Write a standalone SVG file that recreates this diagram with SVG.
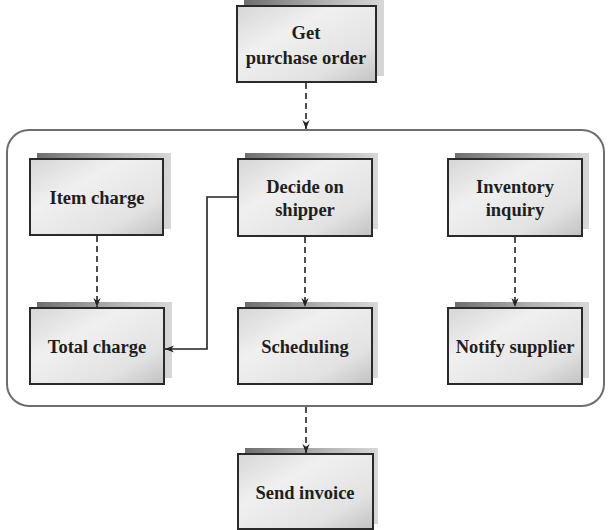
<svg xmlns="http://www.w3.org/2000/svg" width="609" height="530" viewBox="0 0 609 530">
<defs>
<linearGradient id="shade" x1="0" y1="0" x2="1" y2="0">
<stop offset="0" stop-color="#6e6e6e"/>
<stop offset="0.6" stop-color="#b4b4b4"/>
<stop offset="1" stop-color="#d8d8d8"/>
</linearGradient>
<linearGradient id="face" x1="0" y1="0" x2="1" y2="1">
<stop offset="0" stop-color="#d6d6d6"/>
<stop offset="0.35" stop-color="#f0f0f0"/>
<stop offset="0.75" stop-color="#e2e2e2"/>
<stop offset="1" stop-color="#c2c2c2"/>
</linearGradient>
<marker id="ah" viewBox="0 0 10 10" refX="10" refY="5" markerWidth="9" markerHeight="9" markerUnits="userSpaceOnUse" orient="auto">
<path d="M0,1 L10,5 L0,9 L3,5 Z" fill="#222"/>
</marker>
</defs>
<style>
.sh{fill:url(#shade);}
.bx{fill:url(#face);stroke:#2a2a2a;stroke-width:2;}
.t{font-family:"Liberation Serif","Times New Roman",serif;font-weight:bold;font-size:18.5px;fill:#1e1e1e;text-anchor:middle;}
.d{stroke:#222;stroke-width:1.6;fill:none;stroke-dasharray:6,4;}
.s{stroke:#222;stroke-width:1.6;fill:none;}
</style>
<rect width="609" height="530" fill="#fff"/>
<rect id="container" x="7" y="130" width="597" height="276" rx="22" ry="22" fill="none" stroke="#6e6e6e" stroke-width="2"/>
<g id="get-purchase-order">
<rect class="sh" x="244" y="-1" width="140" height="77"/>
<rect class="bx" x="237" y="6" width="139" height="76"/>
<text class="t" x="306" y="39">Get</text>
<text class="t" x="306" y="64">purchase order</text>
</g>
<g id="item-charge">
<rect class="sh" x="37" y="153" width="134" height="76"/>
<rect class="bx" x="30" y="159" width="133" height="76"/>
<text class="t" x="97" y="204">Item charge</text>
</g>
<g id="decide-on-shipper">
<rect class="sh" x="245" y="153" width="133" height="76"/>
<rect class="bx" x="238" y="159" width="134" height="77"/>
<text class="t" x="305" y="193">Decide on</text>
<text class="t" x="305" y="216">shipper</text>
</g>
<g id="inventory-inquiry">
<rect class="sh" x="455" y="153" width="134" height="76"/>
<rect class="bx" x="448" y="159" width="134" height="77"/>
<text class="t" x="515" y="193">Inventory</text>
<text class="t" x="515" y="216">inquiry</text>
</g>
<g id="total-charge">
<rect class="sh" x="37" y="302" width="135" height="76"/>
<rect class="bx" x="30" y="308" width="134" height="76"/>
<text class="t" x="97" y="353">Total charge</text>
</g>
<g id="scheduling">
<rect class="sh" x="245" y="302" width="133" height="76"/>
<rect class="bx" x="238" y="308" width="134" height="76"/>
<text class="t" x="305" y="353">Scheduling</text>
</g>
<g id="notify-supplier">
<rect class="sh" x="455" y="302" width="134" height="76"/>
<rect class="bx" x="448" y="308" width="134" height="76"/>
<text class="t" x="515" y="353">Notify supplier</text>
</g>
<g id="send-invoice">
<rect class="sh" x="245" y="448" width="133" height="76"/>
<rect class="bx" x="238" y="454" width="135" height="75"/>
<text class="t" x="305" y="499">Send invoice</text>
</g>
<g id="connectors">
<line class="d" x1="306" y1="83" x2="306" y2="129" marker-end="url(#ah)"/>
<line class="d" x1="97" y1="236" x2="97" y2="307" marker-end="url(#ah)"/>
<line class="d" x1="305" y1="237" x2="305" y2="307" marker-end="url(#ah)"/>
<line class="d" x1="515" y1="237" x2="515" y2="307" marker-end="url(#ah)"/>
<line class="d" x1="306" y1="407" x2="306" y2="453" marker-end="url(#ah)"/>
<polyline class="s" points="238,197 207,197 207,349 165,349" marker-end="url(#ah)"/>
</g>
</svg>
